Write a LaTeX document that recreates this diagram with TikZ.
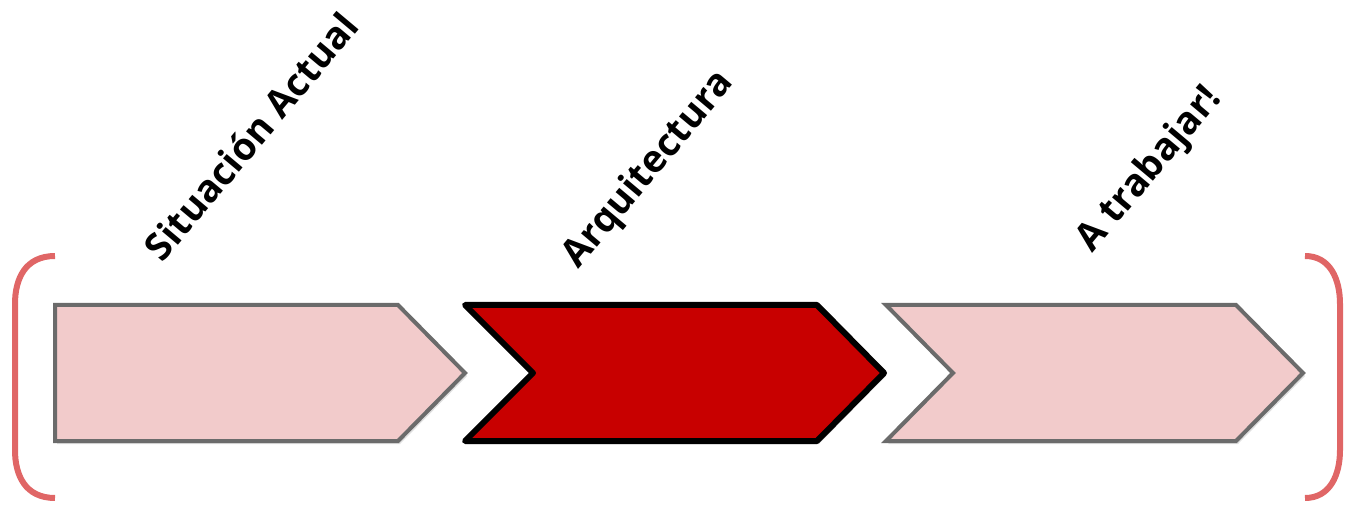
\documentclass[tikz,border=0pt]{standalone}
\usepackage{fontspec}
\setmainfont{Open Sans}
\usetikzlibrary{shadows}
\definecolor{palepink}{RGB}{242,203,203}
\definecolor{edgegray}{RGB}{107,107,107}
\definecolor{deepred}{RGB}{200,0,0}
\definecolor{bracered}{RGB}{224,102,102}

\begin{document}
\begin{tikzpicture}[x=0.5pt, y=0.5pt,
    pale/.style={draw=edgegray, line width=2pt, fill=palepink, line join=miter,
        drop shadow={opacity=0.25, shadow xshift=1pt, shadow yshift=-1.5pt}},
    active/.style={draw=black, line width=3pt, fill=deepred, line join=round,
        drop shadow={opacity=0.25, shadow xshift=1pt, shadow yshift=-1.5pt}},
    brace/.style={draw=bracered, line width=3pt},
    steplabel/.style={font=\bfseries\fontsize{19}{22}\selectfont, rotate=50}]
    \useasboundingbox (0,0) rectangle (1345,504);
    % brackets
    \draw[brace] (55,248) .. controls (25,248) and (15,225) .. (15,200) -- (15,54)
        .. controls (15,29) and (25,6) .. (55,6);
    \draw[brace] (1305,248) .. controls (1330,248) and (1340,225) .. (1340,200) -- (1340,54)
        .. controls (1340,29) and (1330,6) .. (1305,6);
    % steps
    \draw[pale] (55,199) -- (398,199) -- (465,131) -- (398,63) -- (55,63) -- cycle;
    \draw[active] (465,199) -- (817,199) -- (884,131) -- (817,63) -- (465,63) -- (533,131) -- cycle;
    \draw[pale] (886,199) -- (1236,199) -- (1303,131) -- (1236,63) -- (886,63) -- (953,131) -- cycle;
    % labels
    \node[steplabel] (actual) at (251,368) {Situación Actual};
    \node[steplabel] (arq) at (649,334) {Arquitectura};
    \node[steplabel] (trabajar) at (1150,334) {A trabajar!};
\end{tikzpicture}
\end{document}
